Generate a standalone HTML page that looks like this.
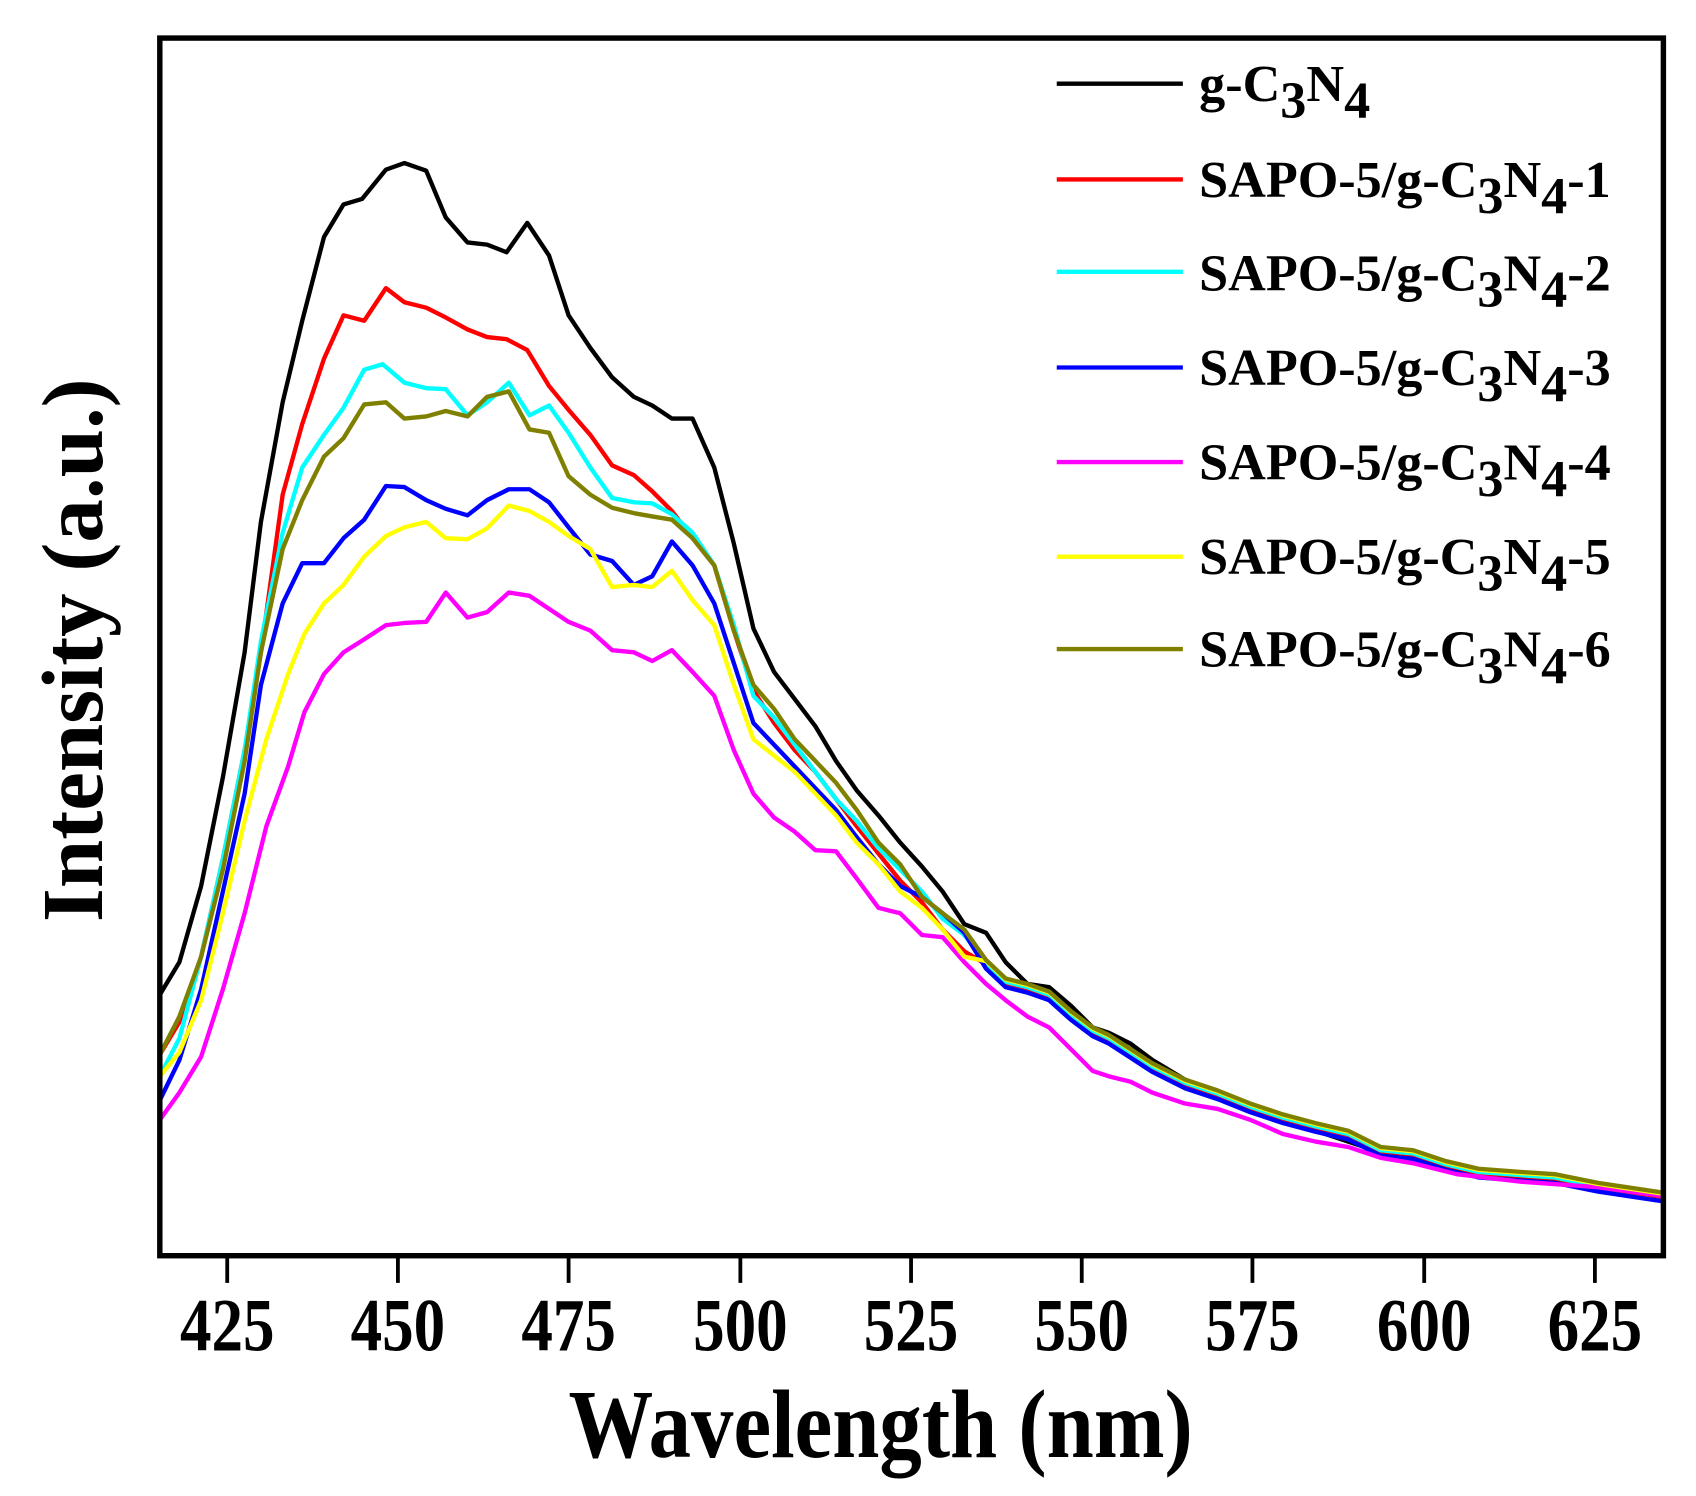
<!DOCTYPE html>
<html><head><style>
html,body{margin:0;padding:0;background:#fff;}
svg{display:block;}
text{font-family:"Liberation Serif",serif;font-weight:bold;fill:#000;}
</style></head><body>
<svg id="s" width="1696" height="1496" viewBox="0 0 1560 1376" xmlns="http://www.w3.org/2000/svg">
<rect x="0" y="0" width="1560" height="1376" fill="#fff"/>
<g id="curves" fill="none" stroke-width="4" stroke-linejoin="round"></g>
<rect x="147" y="35" width="1383" height="1120" fill="none" stroke="#000" stroke-width="5"/>
<g stroke="#000" stroke-width="3.5">
<line x1="209" y1="1155" x2="209" y2="1180"/><line x1="366" y1="1155" x2="366" y2="1180"/>
<line x1="523" y1="1155" x2="523" y2="1180"/><line x1="681" y1="1155" x2="681" y2="1180"/>
<line x1="838" y1="1155" x2="838" y2="1180"/><line x1="995" y1="1155" x2="995" y2="1180"/>
<line x1="1152" y1="1155" x2="1152" y2="1180"/><line x1="1310" y1="1155" x2="1310" y2="1180"/>
<line x1="1467" y1="1155" x2="1467" y2="1180"/>
</g>
<g font-size="58" text-anchor="middle" transform="translate(0,1242) scale(1,1.2)">
<text x="209" y="0">425</text><text x="366" y="0">450</text><text x="523" y="0">475</text>
<text x="681" y="0">500</text><text x="838" y="0">525</text><text x="995" y="0">550</text>
<text x="1152" y="0">575</text><text x="1310" y="0">600</text><text x="1467" y="0">625</text>
</g>
<text x="810" y="0" font-size="78" text-anchor="middle" transform="translate(0,1340) scale(1,1.15)">Wavelength (nm)</text>
<text x="0" y="0" font-size="80" text-anchor="middle" transform="translate(94,598) rotate(-90)">Intensity (a.u.)</text>
<g stroke-width="4">
<line x1="972" y1="77" x2="1088" y2="77" stroke="#000"/>
<line x1="972" y1="165" x2="1088" y2="165" stroke="#ff0000"/>
<line x1="972" y1="250" x2="1088" y2="250" stroke="#00ffff"/>
<line x1="972" y1="338" x2="1088" y2="338" stroke="#0000ff"/>
<line x1="972" y1="425" x2="1088" y2="425" stroke="#ff00ff"/>
<line x1="972" y1="512" x2="1088" y2="512" stroke="#ffff00"/>
<line x1="972" y1="597" x2="1088" y2="597" stroke="#808000"/>
</g>
<g font-size="48">
<text x="1103" y="93">g-C<tspan dy="15">3</tspan><tspan dy="-15">N</tspan><tspan dy="15">4</tspan></text>
<text x="1103" y="181">SAPO-5/g-C<tspan dy="15">3</tspan><tspan dy="-15">N</tspan><tspan dy="15">4</tspan><tspan dy="-15">-1</tspan></text>
<text x="1103" y="267">SAPO-5/g-C<tspan dy="15">3</tspan><tspan dy="-15">N</tspan><tspan dy="15">4</tspan><tspan dy="-15">-2</tspan></text>
<text x="1103" y="354">SAPO-5/g-C<tspan dy="15">3</tspan><tspan dy="-15">N</tspan><tspan dy="15">4</tspan><tspan dy="-15">-3</tspan></text>
<text x="1103" y="441">SAPO-5/g-C<tspan dy="15">3</tspan><tspan dy="-15">N</tspan><tspan dy="15">4</tspan><tspan dy="-15">-4</tspan></text>
<text x="1103" y="528">SAPO-5/g-C<tspan dy="15">3</tspan><tspan dy="-15">N</tspan><tspan dy="15">4</tspan><tspan dy="-15">-5</tspan></text>
<text x="1103" y="613">SAPO-5/g-C<tspan dy="15">3</tspan><tspan dy="-15">N</tspan><tspan dy="15">4</tspan><tspan dy="-15">-6</tspan></text>
</g>
</svg>
<script>
var tail=[907,883,925,900,945,905,965,912,985,930,1005,945,1020,952,1040,965,1060,978,1090,993,1120,1003,1150,1015,1180,1025,1210,1033,1240,1040,1270,1055,1300,1058,1330,1068,1360,1075,1400,1078,1430,1080,1470,1088,1530,1097];
function t(off){var r=[];for(var i=0;i<tail.length;i+=2){r.push(tail[i],tail[i+1]+off);}return r;}
var S=[
["#000",[147,915,165,885,185,815,205,715,225,600,240,480,260,370,278,295,298,218,316,188,333,183,355,156,372,150,392,157,410,200,430,223,448,225,466,232,485,205,505,235,523,290,543,320,563,347,583,365,600,373,618,385,637,385,657,430,675,500,693,578,712,618,731,643,750,668,769,700,788,727,808,750,828,775,848,797,867,820,887,850,907,858,925,885,945,905,965,908,985,925,1005,945,1020,950,1040,960,1060,975,1090,993,1120,1005,1150,1020,1180,1030,1210,1040,1240,1050,1270,1060,1300,1066,1330,1073,1360,1080,1400,1083,1430,1085,1470,1090,1530,1100]],
["#ff0000",[147,970,165,940,185,880,205,790,225,690,240,600,260,455,278,390,298,330,316,290,335,295,355,265,372,278,392,283,410,292,430,303,448,310,466,312,485,322,505,355,523,377,543,400,563,428,583,437,600,452,618,470,637,495,657,520,675,580,693,635,712,665,731,690,750,710,769,735,788,760,808,785,828,810,848,830,867,855,887,875].concat(t(4))],
["#00ffff",[147,990,165,955,185,880,205,790,225,690,240,590,260,490,278,430,298,400,316,375,335,340,352,335,372,352,392,357,410,358,430,382,448,370,468,352,487,382,505,373,523,398,543,430,563,458,583,462,600,463,618,473,637,490,657,520,675,575,693,640,712,660,731,685,750,710,769,735,788,755,808,780,828,800,848,820,867,845,887,860].concat(t(3))],
["#0000ff",[147,1012,165,975,185,910,205,820,225,730,240,630,260,555,278,518,298,518,316,495,335,478,355,447,372,448,392,460,410,468,430,474,448,460,468,450,487,450,505,462,523,485,543,510,563,516,583,538,600,530,618,498,637,520,657,555,675,610,693,665,712,685,731,705,750,725,769,745,788,770,808,795,828,815,848,825,867,840,887,858].concat(t(8))],
["#ff00ff",[147,1030,165,1005,185,972,205,910,225,840,245,760,265,705,280,655,298,620,316,600,335,588,355,575,372,573,392,572,410,545,430,568,448,563,468,545,487,548,505,560,523,572,543,580,563,598,583,600,600,608,618,598,637,618,657,640,675,690,693,730,712,752,731,765,750,782,769,783,788,808,808,835,828,840,848,860,867,862,887,885,907,905,925,920,945,935,965,945,985,965,1005,985,1020,990,1040,995,1060,1005,1090,1015,1120,1020,1150,1030,1180,1043,1210,1050,1240,1055,1270,1065,1300,1070,1340,1080,1400,1087,1470,1092,1530,1100]],
["#ffff00",[147,990,165,968,185,920,205,840,225,755,245,680,265,620,280,583,298,555,316,538,335,512,355,493,372,485,392,480,410,495,430,496,448,486,468,465,487,470,505,480,523,493,543,505,563,540,583,538,600,540,618,525,637,552,657,575,675,630,693,680,712,695,731,710,750,730,769,750,788,775,808,795,828,820,848,835,867,855,887,880].concat(t(1))],
["#808000",[147,970,165,935,185,880,205,800,225,700,240,600,260,505,278,460,298,420,316,403,335,372,355,370,372,385,392,383,410,378,430,383,448,365,468,360,487,395,505,398,523,438,543,455,563,467,583,472,600,475,618,478,637,495,657,520,675,580,693,630,712,652,731,680,750,700,769,720,788,745,808,775,828,795,848,825,867,840,887,855].concat(tail)]
];
var g=document.getElementById("curves"),h="";
S.forEach(function(s){var p=s[1],d="M"+p[0]+","+p[1];for(var i=2;i<p.length;i+=2)d+=" L"+p[i]+","+p[i+1];h+='<path d="'+d+'" stroke="'+s[0]+'"/>';});
g.innerHTML=h;
</script>
</body></html>
